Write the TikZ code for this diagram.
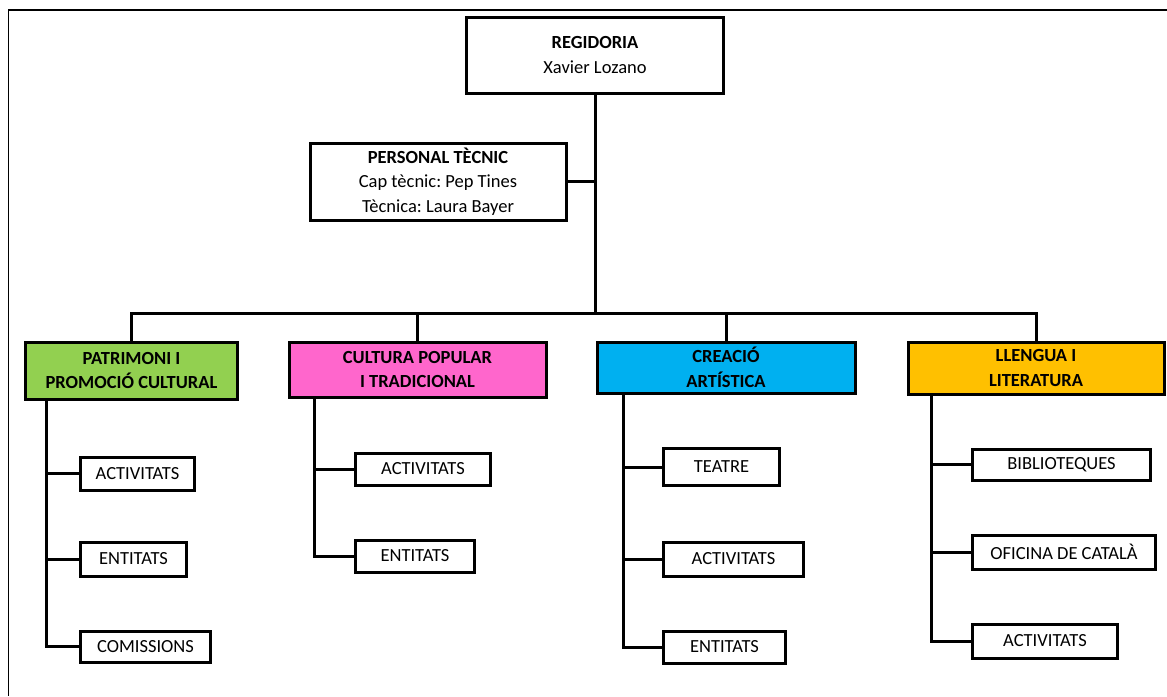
\documentclass[tikz,border=0pt]{standalone}
\usepackage{fontspec}
\setmainfont{Carlito}
\frenchspacing
\usetikzlibrary{positioning}
\definecolor{patgreen}{HTML}{92D050}
\definecolor{culpink}{HTML}{FF66CC}
\definecolor{creblue}{HTML}{00B0F0}
\definecolor{lleyellow}{HTML}{FFC000}
\tikzstyle{head} = [rectangle, draw=black, line width=3pt, align=center, inner sep=0pt, font=\fontsize{18.5}{24.5}\selectfont]
\tikzstyle{area} = [head, font=\bfseries\fontsize{18.5}{24.5}\selectfont]
\tikzstyle{item} = [rectangle, draw=black, line width=3pt, anchor=west, inner sep=0pt, font=\fontsize{18.5}{22}\selectfont]
\tikzstyle{link} = [draw, line width=3pt]

\begin{document}
\begin{tikzpicture}[x=1pt, y=-1pt]
    \useasboundingbox (0,0) rectangle (1167,696);
    \draw [line width=1.2pt] (1167,10) -- (8.5,10) -- (8.5,696);

    \node (reg) [head, minimum width=257, minimum height=76] at (595,55) {\textbf{REGIDORIA}\\Xavier Lozano};
    \node (tec) [head, minimum width=256, minimum height=77] at (438,181.5) {\textbf{PERSONAL TÈCNIC}\\Cap tècnic: Pep Tines\\Tècnica: Laura Bayer};
    \coordinate (bus) at (595,313);

    \node (pat) [area, fill=patgreen, minimum width=212, minimum height=57] at (131.5,370.5) {PATRIMONI I\\PROMOCIÓ CULTURAL};
    \node (cul) [area, fill=culpink, minimum width=257, minimum height=55] at (417.5,369.5) {CULTURA POPULAR\\I TRADICIONAL};
    \node (cre) [area, fill=creblue, minimum width=258, minimum height=51] at (726,367.5) {CREACIÓ\\ARTÍSTICA};
    \node (lle) [area, fill=lleyellow, minimum width=256, minimum height=52] at (1036,368) {LLENGUA I\\LITERATURA};

    \node (patAct) [item, minimum width=114, minimum height=33] at (79,473.5) {ACTIVITATS};
    \node (patEnt) [item, minimum width=106, minimum height=34] at (79,559) {ENTITATS};
    \node (patCom) [item, minimum width=130, minimum height=31] at (79,646.5) {COMISSIONS};

    \node (culAct) [item, minimum width=135, minimum height=32] at (354,469) {ACTIVITATS};
    \node (culEnt) [item, minimum width=119, minimum height=32] at (354,556) {ENTITATS};

    \node (creTea) [item, minimum width=116, minimum height=37] at (662,467) {TEATRE};
    \node (creAct) [item, minimum width=140, minimum height=34] at (662,559) {ACTIVITATS};
    \node (creEnt) [item, minimum width=122, minimum height=32] at (662,647) {ENTITATS};

    \node (lleBib) [item, minimum width=178, minimum height=31] at (971,464.5) {BIBLIOTEQUES};
    \node (lleOfi) [item, minimum width=183, minimum height=34] at (971,552) {OFICINA DE CATALÀ};
    \node (lleAct) [item, minimum width=145, minimum height=34] at (971,641) {ACTIVITATS};

    \path [link] (reg) -- (bus);
    \path [link] (tec) -- (tec -| reg);
    \foreach \a in {pat,cul,cre,lle}
        \path [link] (bus) -| (\a);

    \path [link] ([xshift=22.5pt]pat.south west) |- (patAct);
    \path [link] ([xshift=22.5pt]pat.south west) |- (patEnt);
    \path [link] ([xshift=22.5pt]pat.south west) |- (patCom);
    \path [link] ([xshift=27pt]cul.south west) |- (culAct);
    \path [link] ([xshift=27pt]cul.south west) |- (culEnt);
    \path [link] ([xshift=28pt]cre.south west) |- (creTea);
    \path [link] ([xshift=28pt]cre.south west) |- (creAct);
    \path [link] ([xshift=28pt]cre.south west) |- (creEnt);
    \path [link] ([xshift=25pt]lle.south west) |- (lleBib);
    \path [link] ([xshift=25pt]lle.south west) |- (lleOfi);
    \path [link] ([xshift=25pt]lle.south west) |- (lleAct);
\end{tikzpicture}
\end{document}
